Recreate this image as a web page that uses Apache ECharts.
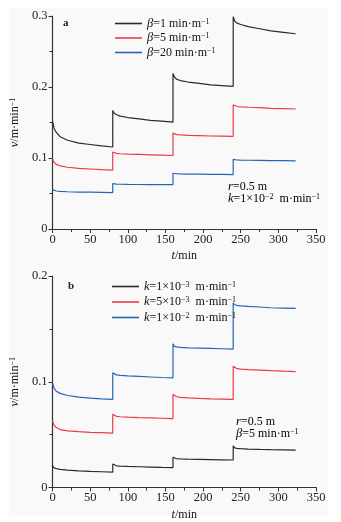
<!DOCTYPE html>
<html>
<head>
<meta charset="utf-8">
<script src="https://cdn.jsdelivr.net/npm/echarts@6/dist/echarts.min.js"></script>
<style>
html,body{margin:0;padding:0;background:#fff;}
#bg{position:absolute;left:9px;top:8px;width:319px;height:508px;background:#f9f9f9;}
#c{position:absolute;left:0;top:0;width:341px;height:522px;}
</style>
</head>
<body>
<div id="bg"></div>
<div id="c"></div>
<script>
// time samples (min), step segments
const t = [0,2,5,10,20,35,50,65,80,
           80,82,85,90,100,115,130,145,160,
           160,162,165,170,180,195,210,225,240,
           240,242,245,250,260,275,290,307,323];
const xTicks = [0,50,100,150,200,250,300,350];

// panel a: r=0.5 m, k=1e-2
const aBeta1 = [0.152,0.142,0.136,0.130,0.125,0.121,0.119,0.117,0.1155,
                0.167,0.163,0.161,0.159,0.157,0.155,0.153,0.152,0.1505,
                0.219,0.214,0.211,0.209,0.207,0.205,0.203,0.202,0.201,
                0.299,0.293,0.290,0.288,0.285,0.282,0.279,0.277,0.275];
const aBeta5 = [0.099,0.094,0.091,0.089,0.087,0.0855,0.0845,0.0835,0.083,
                0.1085,0.107,0.1065,0.106,0.1055,0.105,0.1045,0.104,0.1035,
                0.135,0.1335,0.133,0.1325,0.132,0.1315,0.131,0.1308,0.1305,
                0.175,0.173,0.1725,0.172,0.1715,0.171,0.170,0.1695,0.169];
const aBeta20 = [0.0555,0.054,0.0535,0.053,0.0525,0.052,0.0518,0.0515,0.0512,
                 0.064,0.0635,0.0633,0.063,0.0628,0.0627,0.0626,0.0625,0.0624,
                 0.0785,0.078,0.0778,0.0776,0.0774,0.0772,0.077,0.0768,0.0766,
                 0.098,0.0975,0.0972,0.097,0.0968,0.0966,0.0964,0.0962,0.096];
// panel b: r=0.5 m, beta=5
const bK1e3 = [0.0207,0.0185,0.0178,0.0172,0.0165,0.0158,0.0153,0.0149,0.0145,
               0.0223,0.021,0.0205,0.0202,0.0199,0.0196,0.0193,0.019,0.0188,
               0.0286,0.0275,0.0272,0.027,0.0268,0.0266,0.0264,0.0262,0.026,
               0.0394,0.0375,0.037,0.0367,0.0363,0.036,0.0358,0.0356,0.0354];
const bK5e3 = [0.063,0.059,0.0567,0.0548,0.0535,0.0528,0.0522,0.0518,0.0514,
               0.0692,0.0678,0.0673,0.0669,0.0665,0.0661,0.0658,0.0655,0.0652,
               0.088,0.0862,0.0858,0.0853,0.0848,0.0843,0.0839,0.0836,0.0833,
               0.1146,0.1128,0.1124,0.112,0.1115,0.111,0.1105,0.11,0.1096];
const bK1e2 = [0.099,0.094,0.091,0.089,0.087,0.0855,0.0845,0.0838,0.0833,
               0.1084,0.107,0.1065,0.106,0.1055,0.105,0.1045,0.104,0.1036,
               0.1359,0.1335,0.133,0.1325,0.132,0.1318,0.1315,0.1312,0.1309,
               0.1747,0.1728,0.1722,0.1718,0.1712,0.1707,0.170,0.1697,0.1694];

const namesA = ['β=1 min·m-1','β=5 min·m-1','β=20 min·m-1'];
const namesB = ['k=1×10-3 m·min-1','k=5×10-3 m·min-1','k=1×10-2 m·min-1'];
const richLegend = {
  'β=1 min·m-1': '{i|β}{n|=1 min·m}{s|−1}',
  'β=5 min·m-1': '{i|β}{n|=5 min·m}{s|−1}',
  'β=20 min·m-1': '{i|β}{n|=20 min·m}{s|−1}',
  'k=1×10-3 m·min-1': '{i|k}{n|=1×10}{s|−3}{n|  m·min}{s|−1}',
  'k=5×10-3 m·min-1': '{i|k}{n|=5×10}{s|−3}{n|  m·min}{s|−1}',
  'k=1×10-2 m·min-1': '{i|k}{n|=1×10}{s|−2}{n|  m·min}{s|−1}'
};

const FONT = '"Liberation Serif","DejaVu Serif",serif';
const BLACK = '#2a2a2a', RED = '#ec3a48', BLUE = '#2864b6';
const rich = {
  i: {fontFamily: FONT, fontStyle: 'italic', fontSize: 12.5, color: '#111', lineHeight: 12},
  n: {fontFamily: FONT, fontSize: 12, color: '#111', lineHeight: 12},
  s: {fontFamily: FONT, fontSize: 8, color: '#111', verticalAlign: 'top', lineHeight: 12}
};

const pts = v => t.map((x, i) => [x, v[i]]);

const grids = [
  {left: 52, top: 16, width: 264, height: 213},
  {left: 52, top: 276, width: 264, height: 213}
];

function xAxes(gi) {
  return [
    {gridIndex: gi, type: 'value', min: 0, max: 350, interval: 50,
     name: '{i|t}{n|/min}', nameLocation: 'middle', nameGap: 21,
     nameTextStyle: {rich: rich},
     axisLine: {show: true, lineStyle: {color: '#333', width: 1.2}},
     axisTick: {show: true, inside: false, length: 4, lineStyle: {color: '#333'}},
     axisLabel: {fontFamily: FONT, fontSize: 12.5, color: '#222', margin: 4,
                 formatter: v => xTicks.includes(v) ? String(v) : ''},
     splitLine: {show: false}},
    {gridIndex: gi, type: 'value', min: 0, max: 350, interval: 25,
     axisLine: {show: false},
     axisTick: {show: true, inside: true, length: 3, lineStyle: {color: '#333'}},
     axisLabel: {show: false}, splitLine: {show: false}}
  ];
}
function yAxes(gi, max) {
  return [
    {gridIndex: gi, type: 'value', min: 0, max: max, interval: 0.1,
     name: '{i|v}{n|/m·min}{s|−1}', nameLocation: 'middle', nameGap: 15, nameRotate: 90,
     nameTextStyle: {rich: rich},
     axisLine: {show: true, lineStyle: {color: '#333', width: 1.2}},
     axisTick: {show: true, inside: false, length: 4, lineStyle: {color: '#333'}},
     axisLabel: {fontFamily: FONT, fontSize: 12.5, color: '#222', margin: 5},
     splitLine: {show: false}},
    {gridIndex: gi, type: 'value', min: 0, max: max, interval: 0.05,
     axisLine: {show: false},
     axisTick: {show: true, inside: true, length: 3, lineStyle: {color: '#333'}},
     axisLabel: {show: false}, splitLine: {show: false}}
  ];
}

function line(name, data, color, xi, yi) {
  return {type: 'line', name: name, data: pts(data), xAxisIndex: xi, yAxisIndex: yi,
          showSymbol: false, symbol: 'none', lineStyle: {color: color, width: 1.2},
          itemStyle: {color: color}, animation: false, z: 3};
}

const chart = echarts.init(document.getElementById('c'), null, {renderer: 'canvas'});
chart.setOption({
  animation: false,
  grid: grids,
  xAxis: [...xAxes(0), ...xAxes(1)],
  yAxis: [...yAxes(0, 0.3), ...yAxes(1, 0.2)],
  legend: [
    {data: namesA, orient: 'vertical', left: 115, top: 17, padding: 0,
     itemWidth: 27, itemHeight: 1.6, itemGap: 1.5, icon: 'rect',
     formatter: n => richLegend[n], textStyle: {rich: rich}},
    {data: namesB, orient: 'vertical', left: 112, top: 280, padding: 0,
     itemWidth: 27, itemHeight: 1.6, itemGap: 2.5, icon: 'rect',
     formatter: n => richLegend[n], textStyle: {rich: rich}}
  ],
  series: [
    line(namesA[0], aBeta1, BLACK, 0, 0),
    line(namesA[1], aBeta5, RED, 0, 0),
    line(namesA[2], aBeta20, BLUE, 0, 0),
    line(namesB[0], bK1e3, BLACK, 2, 2),
    line(namesB[1], bK5e3, RED, 2, 2),
    line(namesB[2], bK1e2, BLUE, 2, 2)
  ],
  graphic: [
    {type: 'text', left: 63, top: 18, style: {text: 'a', font: 'bold 11px ' + FONT, fill: '#222'}},
    {type: 'text', left: 68, top: 281, style: {text: 'b', font: 'bold 11px ' + FONT, fill: '#222'}},
    {type: 'text', left: 228, top: 180, style: {text: '{i|r}{n|=0.5 m}\n{i|k}{n|=1×10}{s|−2}{n|  m·min}{s|−1}', rich: rich, lineHeight: 13}},
    {type: 'text', left: 236, top: 415, style: {text: '{i|r}{n|=0.5 m}\n{i|β}{n|=5 min·m}{s|−1}', rich: rich, lineHeight: 13}}
  ]
});
</script>
</body>
</html>
